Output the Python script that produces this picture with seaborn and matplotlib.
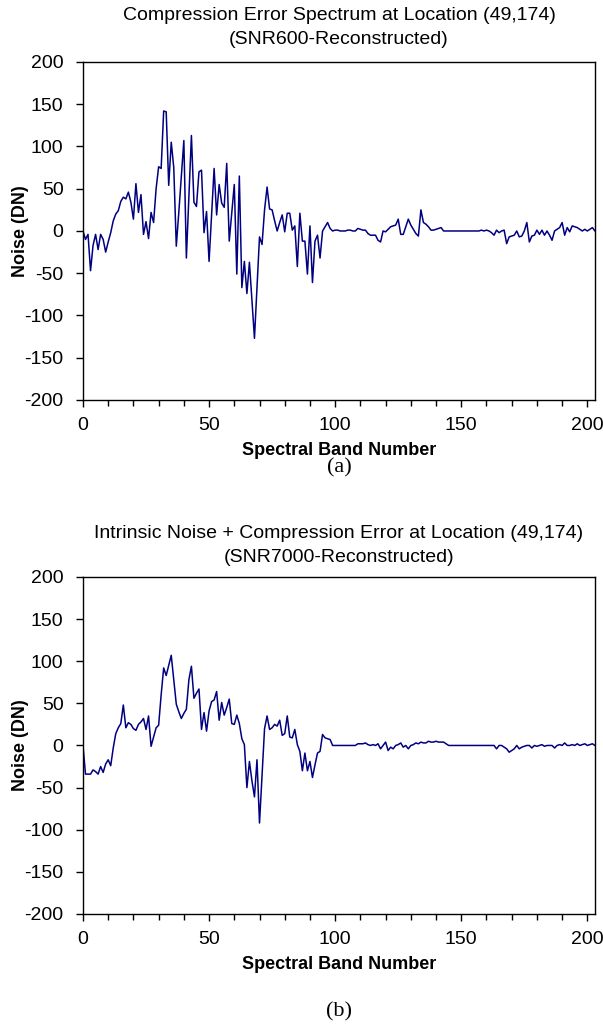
import numpy as np
import pandas as pd
import matplotlib
matplotlib.use("Agg")
import matplotlib.pyplot as plt
from matplotlib.ticker import MultipleLocator
import seaborn as sns

# ========================
# Data
# ========================

bands = np.arange(0, 204)

noise_snr600 = [
    0, -10, -4, -47, -17, -4, -22, -4, -10, -25,
    -13, -2, 12, 20, 24, 35, 40, 38, 46, 34,
    14, 56, 22, 43, -4, 11, -9, 22, 10, 50,
    76, 74, 142, 141, 54, 105, 75, -18, 22, 65,
    107, -32, 40, 113, 34, 29, 70, 72, -2, 23,
    -36, 19, 74, 19, 55, 33, 28, 80, -12, 22,
    55, -51, 65, -67, -36, -74, -37, -82, -127, -67,
    -7, -16, 25, 52, 26, 25, 12, 0, 10, 19,
    -1, 21, 21, 1, 6, -42, 21, -12, -12, -51,
    6, -61, -12, -5, -32, 0, 5, 10, 3, 0,
    1, 1, 0, 0, 0, 1, 1, 0, 0, 3,
    2, 1, 1, -3, -5, -5, -5, -11, -13, 0,
    -1, 2, 5, 6, 7, 14, -4, -4, 5, 14,
    7, 2, -3, -6, 25, 10, 8, 5, 1, 1,
    2, 3, 4, 0, 0, 0, 0, 0, 0, 0,
    0, 0, 0, 0, 0, 0, 0, 0, 1, 0,
    1, 0, -2, -5, 1, -2, 0, 1, -15, -7,
    -6, -5, 0, -7, -6, 0, 10, -13, -6, -5,
    1, -4, 1, -5, 0, -5, -11, 0, 2, 4,
    10, -5, 4, -1, 6, 5, 4, 2, 0, 2,
    0, 2, 4, 0,
]

noise_snr7000 = [
    0, -34, -34, -34, -29, -31, -34, -25, -32, -22,
    -17, -24, -3, 14, 21, 26, 48, 21, 27, 25,
    20, 18, 25, 28, 32, 19, 35, -1, 10, 21,
    24, 60, 92, 83, 95, 107, 78, 49, 40, 32,
    38, 43, 78, 94, 56, 62, 67, 19, 39, 17,
    41, 52, 54, 64, 30, 51, 36, 45, 55, 26,
    25, 36, 26, 8, 1, -50, -19, -42, -61, -17,
    -92, -36, 20, 35, 19, 21, 25, 23, 30, 12,
    14, 35, 10, 9, 19, 1, -7, -30, -9, -30,
    -19, -38, -23, -9, -7, 13, 9, 8, 7, 0,
    0, 0, 0, 0, 0, 0, 0, 0, 0, 2,
    2, 2, 3, 1, 0, 1, 0, 2, -4, 0,
    4, -6, -2, -4, 0, 1, 3, -2, 0, -4,
    0, 1, 3, 2, 4, 3, 3, 5, 4, 4,
    5, 4, 4, 4, 2, 0, 0, 0, 0, 0,
    0, 0, 0, 0, 0, 0, 0, 0, 0, 0,
    0, 0, 0, 0, -4, 0, 0, -2, -4, -8,
    -6, -4, 0, -4, -2, -1, 0, 0, -3, 0,
    -1, 0, 1, -1, 0, 0, 0, -3, 0, 1,
    0, 3, 0, 0, 1, 0, 2, 0, 1, 2,
    0, 1, 2, 0,
]

titles = [
    "Compression Error Spectrum at Location (49,174)\n(SNR600-Reconstructed)",
    "Intrinsic Noise + Compression Error at Location (49,174)\n(SNR7000-Reconstructed)",
]
captions = ["(a)", "(b)"]
caption_y = [-0.2, -0.29]
title_pad = [13, 11]

df_a = pd.DataFrame({"band": bands, "noise": noise_snr600})
df_b = pd.DataFrame({"band": bands, "noise": noise_snr7000})

# ========================
# Figure
# ========================

sns.set_theme(style="ticks")
plt.rcParams["font.family"] = ["Liberation Sans", "DejaVu Sans"]
plt.rcParams["axes.unicode_minus"] = False
plt.rcParams["text.color"] = "black"
plt.rcParams["axes.labelcolor"] = "black"

fig = plt.figure(figsize=(6.03, 10.33), dpi=100)
ax_a = fig.add_axes([0.1376, 0.6128, 0.849, 0.3272])
ax_b = fig.add_axes([0.1376, 0.1152, 0.849, 0.3263])

for ax, df, title, cap, cy, tp in zip([ax_a, ax_b], [df_a, df_b], titles,
                                      captions, caption_y, title_pad):
    sns.lineplot(data=df, x="band", y="noise", ax=ax, color="#000080", linewidth=1.1)
    ax.set_xlim(0, 203)
    ax.set_ylim(-200, 200)
    ax.yaxis.set_major_locator(MultipleLocator(50))
    ax.xaxis.set_major_locator(MultipleLocator(50))
    ax.xaxis.set_minor_locator(MultipleLocator(10))
    ax.tick_params(axis="both", which="major", direction="out", length=5, width=1,
                   color="black", labelsize=14, labelcolor="black")
    ax.tick_params(axis="y", which="major", pad=9)
    ax.tick_params(axis="x", which="major", pad=7)
    ax.tick_params(axis="x", which="minor", direction="out", length=4, width=1, color="black")
    for sp in ax.spines.values():
        sp.set_visible(True)
        sp.set_color("black")
        sp.set_linewidth(1.0)
    ax.set_xlabel("Spectral Band Number", fontsize=13, fontweight="bold", labelpad=6)
    ax.set_ylabel("Noise (DN)", fontsize=13, fontweight="bold", labelpad=-3)
    ax.set_title(title, fontsize=14, linespacing=1.5, pad=tp, color="black")
    ax.text(0.5, cy, cap, transform=ax.transAxes, ha="center", va="center",
            fontsize=16, family=["Liberation Serif", "DejaVu Serif"])

fig.savefig("out.png", dpi=100)
